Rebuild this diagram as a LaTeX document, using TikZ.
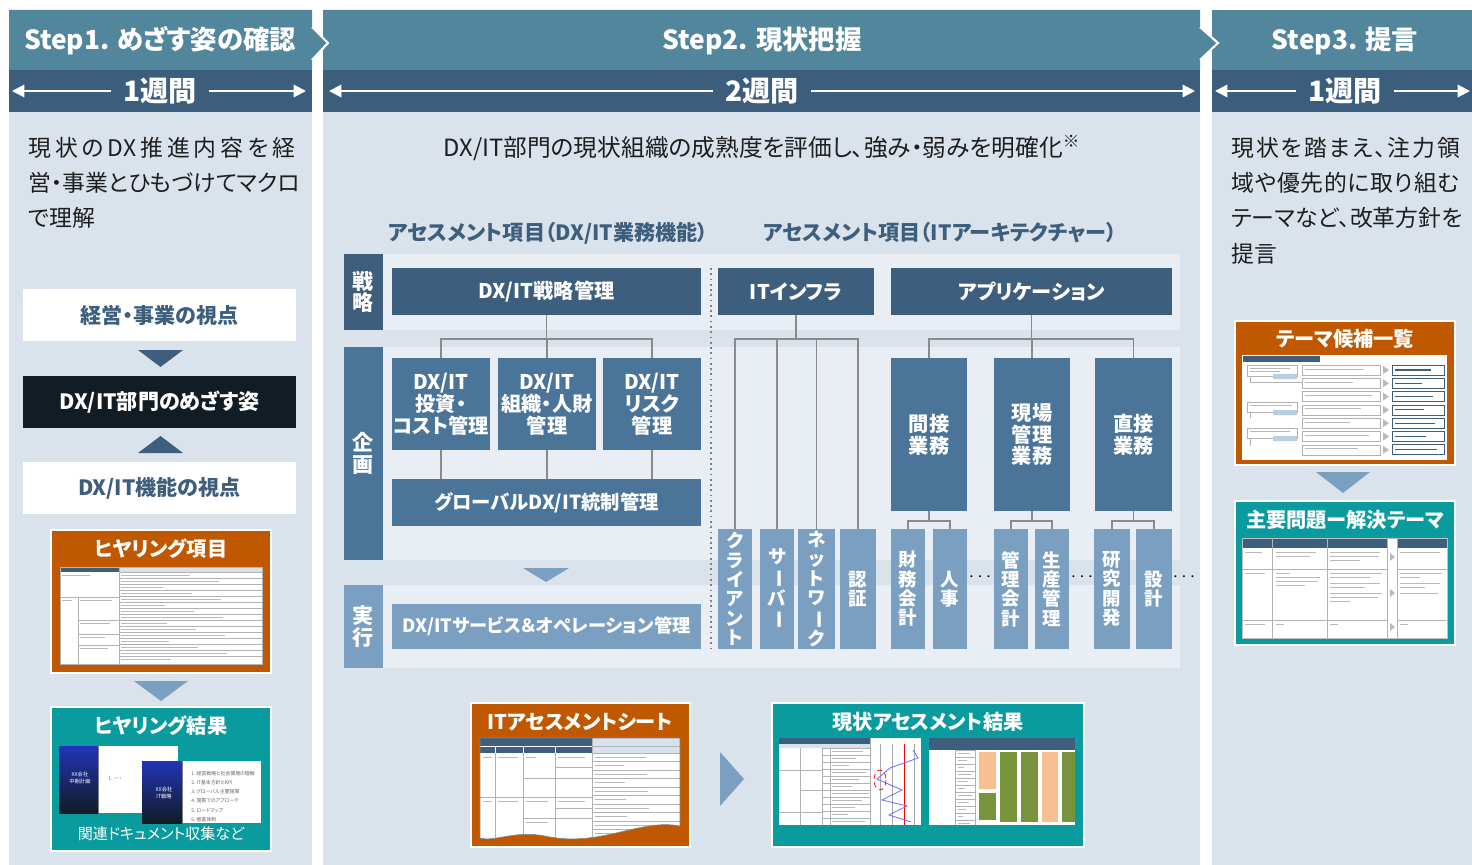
\documentclass[tikz,border=0pt]{standalone}
\usepackage{fontspec}
\usepackage{graphicx}
\setmainfont{Noto Sans CJK JP}[RawFeature=+palt]
\usetikzlibrary{positioning,calc,arrows.meta}
\definecolor{stepTeal}{HTML}{52869C}
\definecolor{weekNavy}{HTML}{3C5E7C}
\definecolor{panelBg}{HTML}{DAE3EC}
\definecolor{rowBg}{HTML}{E9EEF5}
\definecolor{boxDark}{HTML}{3D5F7D}
\definecolor{boxMid}{HTML}{4A7599}
\definecolor{boxLight}{HTML}{7A9FC0}
\definecolor{goalBlack}{HTML}{111C24}
\definecolor{cardOrange}{HTML}{C05800}
\definecolor{cardTeal}{HTML}{0A9B9F}
\definecolor{connGray}{HTML}{8A8A8A}
\definecolor{inkBlack}{HTML}{1E1E1E}
\definecolor{paleHead}{HTML}{D6E2F0}
\definecolor{peach}{HTML}{F8C090}
\definecolor{olive}{HTML}{77933C}
\tikzset{>={Triangle[length=7pt,width=7pt]}}
\tikzset{
  steptitle/.style={text=white, font=\bfseries\fontsize{15}{18}\selectfont, inner sep=0pt},
  weeklbl/.style={text=white, font=\bfseries\fontsize{16}{18}\selectfont, inner xsep=7pt, inner ysep=0pt},
  wkarrow/.style={white, line width=1.2pt, ->},
  bodytxt/.style={text=inkBlack, font=\fontsize{13}{15}\selectfont, inner sep=0pt},
  subhead/.style={text=boxDark, font=\bfseries\fontsize{12}{14}\selectfont, inner sep=0pt},
  fnbox/.style={inner sep=0pt, outer sep=0pt, align=center, text=white, font=\bfseries\fontsize{11.5}{12.5}\selectfont},
  fnDark/.style={fnbox, fill=boxDark},
  fnMid/.style={fnbox, fill=boxMid},
  fnLight/.style={fnbox, fill=boxLight},
  leaf/.style={fnbox, fill=boxLight, font=\bfseries\fontsize{10.5}{11}\selectfont},
  rowlbl/.style={fnbox, font=\bfseries\fontsize{12}{12.5}\selectfont},
  viewbox/.style={fnbox, fill=white, text=boxDark, font=\bfseries\fontsize{12}{14}\selectfont},
  goalbox/.style={fnbox, fill=goalBlack, font=\bfseries\fontsize{12}{14}\selectfont},
  conn/.style={draw=connGray, line width=1.1pt},
  card/.style={draw=white, line width=1.2pt},
  cardtitle/.style={text=white, font=\bfseries\fontsize{11.5}{13}\selectfont, inner sep=0pt},
  dotsym/.style={inner sep=0pt, font=\fontsize{11}{11}\selectfont},
  thumbGrid/.style={draw=gray!60, line width=0.25pt},
  thumbText/.style={draw=gray!55, line width=0.5pt},
  doctxt/.style={inner sep=0pt, align=left, font=\fontsize{3}{4}\selectfont},
}
% box from pixel corners: name, x1, y1, x2, y2, style, text
\newcommand{\pbox}[7]{\node[#6, minimum width={(#4-#2)*0.02cm}, minimum height={(#5-#3)*0.02cm}] (#1) at ({(#2+#4)/2},{(#3+#5)/2}) {#7};}
\newcommand{\tatebar}{\rotatebox[origin=c]{-90}{ー}}

\begin{document}
\begin{tikzpicture}[x=0.02cm, y=-0.02cm]
\useasboundingbox (0,0) rectangle (1472,865);

% panels and week bands
\fill[panelBg] (9,112) rectangle (312,865);
\fill[panelBg] (323,112) rectangle (1200,865);
\fill[panelBg] (1212,112) rectangle (1472,865);
\fill[weekNavy] (9,70) rectangle (312,112);
\fill[weekNavy] (323,70) rectangle (1200,112);
\fill[weekNavy] (1212,70) rectangle (1472,112);

% step headers
\fill[stepTeal] (1212,10) rectangle (1472,70);
\fill[stepTeal] (323,10) -- (1200,10) -- (1200,27) -- (1218,43) -- (1200,60) -- (1200,70) -- (323,70) -- cycle;
\draw[white, line width=1.2pt] (1200,27) -- (1218,43) -- (1200,60);
\fill[stepTeal] (9,10) -- (312,10) -- (312,27) -- (328,43) -- (312,60) -- (312,70) -- (9,70) -- cycle;
\draw[white, line width=1.2pt] (312,27) -- (328,43) -- (312,60);
\node[steptitle] (step1) at (160,41) {Step1. めざす姿の確認};
\node[steptitle] (step2) at (762,41) {Step2. 現状把握};
\node[steptitle] (step3) at (1345,41) {Step3. 提言};

% durations
\node[weeklbl] (wk1) at (160,91) {1週間};
\coordinate (wk1a) at (12,91);
\coordinate (wk1b) at (306,91);
\draw[wkarrow] (wk1.west) -- (wk1a);
\draw[wkarrow] (wk1.east) -- (wk1b);
\node[weeklbl] (wk2) at (762,91) {2週間};
\coordinate (wk2a) at (329,91);
\coordinate (wk2b) at (1195,91);
\draw[wkarrow] (wk2.west) -- (wk2a);
\draw[wkarrow] (wk2.east) -- (wk2b);
\node[weeklbl] (wk3) at (1345,91) {1週間};
\coordinate (wk3a) at (1215,91);
\coordinate (wk3b) at (1470,91);
\draw[wkarrow] (wk3.west) -- (wk3a);
\draw[wkarrow] (wk3.east) -- (wk3b);

% ---- step 1
\node[bodytxt, anchor=base west] (aim1) at (28,157) {\makebox[5.34cm][s]{現\hfill 状\hfill の\hfill DX\hfill 推\hfill 進\hfill 内\hfill 容\hfill を\hfill 経}};
\node[bodytxt, anchor=base west] (aim2) at (28,192) {\makebox[5.28cm][s]{営\hfill ・\hfill 事\hfill 業\hfill と\hfill ひ\hfill も\hfill づ\hfill け\hfill て\hfill マ\hfill ク\hfill ロ}};
\node[bodytxt, anchor=base west] (aim3) at (28,227) {で理解};

\pbox{viewBiz}{23}{289}{296}{341}{viewbox}{経営・事業の視点}
\pbox{goal}{23}{376}{296}{428}{goalbox}{DX/IT部門のめざす姿}
\pbox{viewIT}{23}{462}{296}{514}{viewbox}{DX/IT機能の視点}
\fill[boxDark] (138,350) -- (183,350) -- (160.5,367) -- cycle;
\fill[boxDark] (138,453) -- (183,453) -- (160.5,436) -- cycle;

% hearing items card
\draw[card, fill=cardOrange] (51,530) rectangle (271,673);
\node[cardtitle] (hearItems) at (161,549) {ヒヤリング項目};
\fill[white] (60,567) rectangle (262,664);
\fill[boxDark] (60,567) rectangle (119,572);
\fill[paleHead] (119,567) rectangle (262,572);
\draw[thumbGrid] (60,567) rectangle (262,664) (78,597) -- (78,664) (119,567) -- (119,664)
  (60,597) -- (119,597) (78,620) -- (119,620) (78,634) -- (119,634) (78,645) -- (119,645);
\foreach \y [count=\i] in {572,578,...,656}
  {\draw[thumbGrid] (119,\y) -- (262,\y);
   \draw[thumbText] (121,\y+3) -- ++({40+mod(\i*29,85)},0);}
\draw[thumbText] (62,575) -- (90,575) (62,600) -- (72,600) (80,600) -- (112,600) (80,623) -- (110,623) (80,637) -- (105,637) (80,648) -- (108,648);
\fill[boxLight] (134,681) -- (188,681) -- (161,701) -- cycle;

% hearing results card
\draw[card, fill=cardTeal] (51,707) rectangle (271,851);
\node[cardtitle] (hearRes) at (161,726) {ヒヤリング結果};
\shade[top color=blue!45!boxDark, bottom color=goalBlack] (59,746) rectangle (98,813);
\fill[white] (98,746) rectangle (178,813);
\draw[gray, line width=0.4pt] (98,746) -- (98,813);
\node[doctxt, text=white, align=center] (cover1) at (80,778) {XX会社\\中期計画};
\node[doctxt, text=gray, anchor=west] (page1) at (108,779) {1．・・・};
\shade[top color=blue!45!boxDark, bottom color=goalBlack] (142,761) rectangle (182,823);
\fill[white] (182,761) rectangle (261,823);
\draw[gray, line width=0.4pt] (182,761) -- (182,823);
\node[doctxt, text=white, align=center] (cover2) at (164,793) {XX会社\\IT戦略};
\node[doctxt, text=gray!80!black, anchor=north west, font=\fontsize{2.8}{5.2}\selectfont] (page2) at (191,771)
  {1．経営戦略と社会環境の理解\\2．IT基本方針とKPI\\3．グローバル主要施策\\4．施策でのアプローチ\\5．ロードマップ\\6．推進体制};
\node[text=white, inner sep=0pt, font=\fontsize{8.6}{10}\selectfont] (docs) at (161,834) {関連ドキュメント収集など};

% ---- step 2
\node[bodytxt, font=\fontsize{13.5}{15}\selectfont] (goal2) at (762,148) {DX/IT部門の現状組織の成熟度を評価し、強み・弱みを明確化\textsuperscript{※}};
\node[subhead] (subFn) at (548,233) {アセスメント項目（DX/IT業務機能）};
\node[subhead] (subArch) at (940,233) {アセスメント項目（ITアーキテクチャー）};

\fill[rowBg] (383,254) rectangle (1180,330);
\fill[rowBg] (383,347) rectangle (1180,560);
\fill[rowBg] (383,585) rectangle (1180,668);
\pbox{rowStrat}{344}{254}{383}{330}{rowlbl, fill=boxDark}{戦\\略}
\pbox{rowPlan}{344}{347}{383}{560}{rowlbl, fill=boxMid}{企\\画}
\pbox{rowExec}{344}{585}{383}{668}{rowlbl, fill=boxLight}{実\\行}

% business functions
\pbox{stratMgmt}{392}{268}{701}{315}{fnDark}{DX/IT戦略管理}
\pbox{invest}{392}{358}{490}{450}{fnMid}{DX/IT\\投資・\\コスト管理}
\pbox{orgHr}{498}{358}{596}{450}{fnMid}{DX/IT\\組織・人財\\管理}
\pbox{risk}{603}{358}{701}{450}{fnMid}{DX/IT\\リスク\\管理}
\pbox{glob}{392}{479}{701}{526}{fnMid, font=\bfseries\fontsize{11}{12}\selectfont}{グローバルDX/IT統制管理}
\pbox{svcOps}{392}{604}{701}{649}{fnLight, font=\bfseries\fontsize{10.4}{12}\selectfont}{DX/ITサービス＆オペレーション管理}
\draw[conn] (stratMgmt.south) -- (stratMgmt.south |- 0,339);
\draw[conn] (invest.north) |- (risk.north |- 0,339) -- (risk.north);
\draw[conn] (orgHr.north) -- (orgHr.north |- 0,339);
\draw[conn] (invest.south) -- (invest.south |- glob.north);
\draw[conn] (orgHr.south) -- (orgHr.south |- glob.north);
\draw[conn] (risk.south) -- (risk.south |- glob.north);
\fill[boxLight] (523,568) -- (569,568) -- (546,582) -- cycle;

\draw[gray, dotted, line width=1pt] (711,268) -- (711,650);

% IT architecture
\pbox{infra}{718}{268}{874}{315}{fnDark}{ITインフラ}
\pbox{apps}{891}{268}{1172}{315}{fnDark}{アプリケーション}
\pbox{client}{718}{529}{752}{649}{leaf}{ク\\ラ\\イ\\ア\\ン\\ト}
\pbox{server}{760}{529}{794}{649}{leaf}{サ\\\tatebar\\バ\\\tatebar}
\pbox{network}{798}{529}{835}{649}{leaf}{ネ\\ッ\\ト\\ワ\\\tatebar\\ク}
\pbox{auth}{840}{529}{876}{649}{leaf}{認\\証}
\draw[conn] (infra.south) -- (infra.south |- 0,339);
\draw[conn] (client.north) |- (auth.north |- 0,339) -- (auth.north);
\draw[conn] (server.north) -- (server.north |- 0,339);
\draw[conn] (network.north) -- (network.north |- 0,339);

\pbox{indirect}{891}{358}{967}{511}{fnMid}{間接\\業務}
\pbox{field}{994}{358}{1070}{511}{fnMid}{現場\\管理\\業務}
\pbox{direct}{1095}{358}{1172}{511}{fnMid}{直接\\業務}
\draw[conn] (apps.south) -- (apps.south |- 0,339);
\draw[conn] (indirect.north) |- (direct.north |- 0,339) -- (direct.north);
\draw[conn] (field.north) -- (field.north |- 0,339);

\pbox{finAcc}{891}{529}{925}{649}{leaf}{財\\務\\会\\計}
\pbox{hr}{933}{529}{967}{649}{leaf}{人\\事}
\pbox{mgmtAcc}{994}{529}{1028}{649}{leaf}{管\\理\\会\\計}
\pbox{prod}{1035}{529}{1069}{649}{leaf}{生\\産\\管\\理}
\pbox{rnd}{1094}{529}{1130}{649}{leaf}{研\\究\\開\\発}
\pbox{design}{1136}{529}{1172}{649}{leaf}{設\\計}
\draw[conn] (indirect.south) -- (indirect.south |- 0,521);
\draw[conn] (finAcc.north) |- (hr.north |- 0,521) -- (hr.north);
\draw[conn] (field.south) -- (field.south |- 0,521);
\draw[conn] (mgmtAcc.north) |- (prod.north |- 0,521) -- (prod.north);
\draw[conn] (direct.south) -- (direct.south |- 0,521);
\draw[conn] (rnd.north) |- (design.north |- 0,521) -- (design.north);
\node[dotsym] (more1) at (980,577) {$\cdots$};
\node[dotsym] (more2) at (1082,577) {$\cdots$};
\node[dotsym] (more3) at (1184,577) {$\cdots$};

% assessment sheet card
\draw[card, fill=cardOrange] (471,703) rectangle (690,847);
\node[cardtitle] (sheet) at (580,722) {ITアセスメントシート};
\begin{scope}
  \path[clip] (480,738) -- (680,738) -- (680,826) .. controls (640,818) and (600,848) .. (545,836) .. controls (515,830) and (495,842) .. (480,838) -- cycle;
  \fill[white] (480,738) rectangle (680,850);
  \fill[boxDark] (480,738) rectangle (592,753);
  \fill[paleHead] (592,738) rectangle (680,753);
  \draw[white, line width=0.3pt] (480,746) -- (592,746) (495,746) -- (495,753) (523,746) -- (523,753) (555,746) -- (555,753);
  \draw[thumbGrid] (495,753) -- (495,850) (523,753) -- (523,850) (555,753) -- (555,850) (592,738) -- (592,850) (592,746) -- (680,746)
    (480,797) -- (592,797) (523,778) -- (592,778) (523,818) -- (592,818) (555,767) -- (592,767) (555,808) -- (592,808);
  \foreach \y [count=\i] in {753,761.5,...,840}
    {\draw[thumbGrid] (592,\y) -- (680,\y);
     \draw[thumbText] (595,\y+4.2) -- ++({28+mod(\i*23,45)},0);}
  \draw[thumbText] (483,757) -- (492,757) (498,757) -- (518,757) (526,757) -- (536,757) (558,757) -- (585,757)
    (483,801) -- (492,801) (498,801) -- (518,801) (526,801) -- (548,801) (558,801) -- (585,801) (526,822) -- (548,822);
\end{scope}
\draw[gray, line width=0.3pt] (480,738) -- (680,738) -- (680,826) .. controls (640,818) and (600,848) .. (545,836) .. controls (515,830) and (495,842) .. (480,838) -- cycle;
\fill[boxLight] (720,752) -- (744,779) -- (720,806) -- cycle;

% assessment result card
\draw[card, fill=cardTeal] (772,703) rectangle (1084,847);
\node[cardtitle] (result) at (928,722) {現状アセスメント結果};
\fill[white] (779,738) rectangle (921,825);
\fill[boxDark] (779,738) rectangle (870,744);
\fill[paleHead] (779,744) rectangle (870,748);
\draw[thumbGrid] (800,748) -- (800,825) (822,748) -- (822,825) (830,748) -- (830,825) (870,738) -- (870,825)
  (779,770) -- (822,770) (800,790) -- (822,790) (779,812) -- (822,812);
\foreach \y [count=\i] in {748,755,...,820}
  {\draw[thumbGrid] (822,\y) -- (870,\y);
   \draw[thumbText] (832,\y+3.5) -- ++({14+mod(\i*17,24)},0);}
\draw[gray!70, line width=0.3pt] (880,744) -- (880,825) (892,744) -- (892,825) (914,744) -- (914,825);
\draw[red, line width=0.5pt] (904,744) -- (904,825);
\draw[blue!55, line width=0.5pt] (913,750) -- (918,758) -- (890,768) -- (877,779) -- (902,790) -- (882,800) -- (907,806) -- (889,815) -- (911,822);
\draw[red, densely dashed, line width=0.4pt] (880,780) ellipse [x radius=6, y radius=10];
\fill[white] (929,738) rectangle (1075,825);
\fill[boxDark] (929,738) rectangle (1075,750);
\draw[thumbGrid] (955,750) -- (955,825) (975,750) -- (975,825);
\foreach \y [count=\i] in {750,757,...,820}
  {\draw[thumbGrid] (955,\y) -- (975,\y);
   \draw[thumbText] (958,\y+3.5) -- ++({5+mod(\i*7,10)},0);}
\fill[peach] (979,752) rectangle (996,789);
\fill[olive] (979,793) rectangle (996,820);
\fill[olive] (1000,752) rectangle (1017,822);
\fill[olive] (1021,752) rectangle (1038,822);
\fill[peach] (1042,752) rectangle (1058,822);
\fill[olive] (1062,752) rectangle (1075,822);

% ---- step 3
\node[bodytxt, anchor=base west] (plan1) at (1231,157) {\makebox[4.58cm][s]{現\hfill 状\hfill を\hfill 踏\hfill ま\hfill え\hfill 、\hfill 注\hfill 力\hfill 領}};
\node[bodytxt, anchor=base west] (plan2) at (1231,192) {\makebox[4.56cm][s]{域\hfill や\hfill 優\hfill 先\hfill 的\hfill に\hfill 取\hfill り\hfill 組\hfill む}};
\node[bodytxt, anchor=base west] (plan3) at (1231,227) {\makebox[4.54cm][s]{テ\hfill ー\hfill マ\hfill な\hfill ど\hfill 、\hfill 改\hfill 革\hfill 方\hfill 針\hfill を}};
\node[bodytxt, anchor=base west] (plan4) at (1231,262) {提言};

% theme candidates card
\draw[card, fill=cardOrange] (1235,321) rectangle (1455,465);
\node[cardtitle] (themes) at (1345,339) {テーマ候補一覧};
\fill[white] (1242,355) rectangle (1447,460);
\fill[boxDark] (1243,356) rectangle (1320,362);
\draw[thumbGrid] (1247,365) rectangle (1297,376) (1247,402) rectangle (1297,412) (1247,428) rectangle (1297,438);
\fill[paleHead!70!boxLight] (1273,374) rectangle (1297,379) (1273,410) rectangle (1297,415) (1273,436) rectangle (1297,441);
\draw[thumbGrid] (1250,376) -- (1250,382) -- (1302,382) (1250,412) -- (1250,418) (1250,438) -- (1250,446);
\foreach \y [count=\i] in {365,378.3,...,446}
  {\draw[thumbGrid] (1302,\y) rectangle (1380,\y+10);
   \draw[thumbText] (1305,\y+4) -- ++({40+mod(\i*19,30)},0);
   \fill[gray!55] (1383,\y+1) -- (1389,\y+5) -- (1383,\y+9) -- cycle;
   \draw[boxDark, line width=0.4pt] (1392,\y) rectangle (1444,\y+10);
   \draw[boxDark, line width=0.6pt] (1395,\y+5) -- ++({25+mod(\i*11,20)},0);}
\draw[thumbText] (1250,368) -- (1290,368) (1250,371) -- (1280,371) (1250,405) -- (1292,405) (1250,431) -- (1290,431);
\fill[boxLight] (1316,472) -- (1370,472) -- (1343,493) -- cycle;

% main issues card
\draw[card, fill=cardTeal] (1235,501) rectangle (1455,645);
\node[cardtitle] (issues) at (1345,520) {主要問題ー解決テーマ};
\fill[white] (1242,538) rectangle (1447,638);
\fill[boxDark] (1242,538) rectangle (1387,548);
\fill[boxDark] (1397,538) rectangle (1447,548);
\draw[gray!50, line width=0.3pt] (1242,538) rectangle (1447,638);
\draw[thumbGrid] (1272,538) -- (1272,638) (1327,538) -- (1327,638) (1387,538) -- (1387,638) (1397,538) -- (1397,638)
  (1242,569) -- (1387,569) (1242,620) -- (1387,620) (1397,569) -- (1447,569) (1397,620) -- (1447,620);
\draw[thumbText] (1245,552) -- (1262,552) (1276,552) -- (1316,552) (1276,556) -- (1310,556) (1330,552) -- (1380,552) (1330,556) -- (1378,556) (1330,560) -- (1360,560) (1400,552) -- (1440,552)
  (1245,573) -- (1265,573) (1276,573) -- (1290,573) (1276,577) -- (1320,577) (1276,581) -- (1318,581) (1276,585) -- (1305,585)
  (1330,573) -- (1382,573) (1330,577) -- (1370,577) (1330,583) -- (1380,583) (1330,587) -- (1365,587) (1330,593) -- (1382,593) (1330,597) -- (1378,597) (1330,601) -- (1350,601)
  (1400,573) -- (1442,573) (1400,577) -- (1420,577) (1400,583) -- (1440,583) (1400,587) -- (1425,587) (1400,593) -- (1438,593)
  (1245,624) -- (1265,624) (1276,624) -- (1284,624) (1330,624) -- (1338,624) (1400,624) -- (1408,624);
\fill[gray!55] (1390,553) -- (1395,557) -- (1390,561) -- cycle;
\fill[gray!55] (1390,589) -- (1395,593) -- (1390,597) -- cycle;
\fill[gray!55] (1390,623) -- (1395,627) -- (1390,631) -- cycle;
\end{tikzpicture}
\end{document}
